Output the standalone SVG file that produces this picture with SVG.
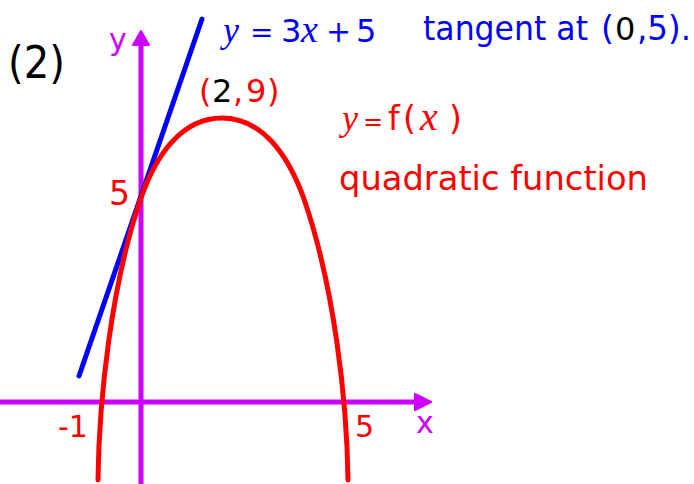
<svg xmlns="http://www.w3.org/2000/svg" width="694" height="484" viewBox="0 0 694 484">
<style>
.t{font-family:"DejaVu Sans","Open Sans",sans-serif;}
.m{font-family:"Liberation Serif","DejaVu Serif",serif;font-style:italic;}
.red{fill:#FF0000}.blue{fill:#0000FF}.blk{fill:#000}.pur{fill:#CC00FF}
.ax{stroke:#CC00FF;stroke-width:5;fill:none}
</style>
<rect width="694" height="484" fill="#fff"/>
<g id="axes">
<line class="ax" x1="0" y1="402" x2="420" y2="402"/>
<polygon points="415,394 431,402 415,410" fill="#CC00FF" stroke="#CC00FF" stroke-width="2" stroke-linejoin="round"/>
<line class="ax" x1="141" y1="484" x2="141" y2="42"/>
<polygon points="133,45 141,31 149,45" fill="#CC00FF" stroke="#CC00FF" stroke-width="2" stroke-linejoin="round"/>
</g>
<g id="tangent">
<line x1="79" y1="376" x2="202" y2="19" stroke="#0000FF" stroke-width="5" stroke-linecap="round"/>
</g>
<g id="parabola">
<path d="M98,480 C99,400 111,285 141,198 C156,154.5 182,118 222,118 C262,118 288,154.5 304,199 C334,286 347,400 348,480" fill="none" stroke="#FF0000" stroke-width="5" stroke-linecap="round"/>
</g>
<g id="labels">
<text class="t blk" x="8" y="78" font-size="44" textLength="57" lengthAdjust="spacingAndGlyphs">(2)</text>
<text class="t pur" x="109" y="50" font-size="30">y</text>
<text class="t pur" x="416" y="433" font-size="30">x</text>
<g id="tangent-label">
<text class="m blue" x="223" y="42" font-size="36">y</text>
<text class="t blue" x="250" y="42" font-size="28">=</text>
<text class="t blue" x="281" y="42" font-size="32">3</text>
<text class="m blue" x="301" y="42" font-size="38">x</text>
<text class="t blue" x="326" y="42" font-size="30">+</text>
<text class="t blue" x="356" y="42" font-size="32">5</text>
<text class="t blue" x="423" y="40" font-size="33" textLength="165" lengthAdjust="spacingAndGlyphs">tangent at</text>
<text class="t blue" x="601" y="40" font-size="33">(</text>
<text class="t blk" x="615" y="40" font-size="32">0</text>
<text class="t blue" x="637" y="40" font-size="33" textLength="54" lengthAdjust="spacingAndGlyphs">,5).</text>
</g>
<g id="vertex-label">
<text class="t red" x="199" y="102" font-size="32">(</text>
<text class="t blk" x="212" y="102" font-size="32">2</text>
<text class="t red" x="233" y="102" font-size="32">,</text>
<text class="t red" x="246" y="102" font-size="32">9</text>
<text class="t red" x="267" y="102" font-size="32">)</text>
</g>
<g id="function-label">
<text class="m red" x="342" y="130" font-size="36">y</text>
<text class="t red" x="363" y="130" font-size="24">=</text>
<text class="t red" x="388" y="130" font-size="33">f</text>
<text class="t red" x="403" y="130" font-size="33">(</text>
<text class="m red" x="420" y="130" font-size="40">x</text>
<text class="t red" x="449" y="130" font-size="33">)</text>
<text class="t red" x="339" y="190" font-size="33" textLength="309" lengthAdjust="spacingAndGlyphs">quadratic function</text>
</g>
<text class="t red" x="109" y="205" font-size="33">5</text>
<text class="t red" x="58" y="437" font-size="30">-1</text>
<text class="t red" x="355" y="437" font-size="30">5</text>
</g>
</svg>
